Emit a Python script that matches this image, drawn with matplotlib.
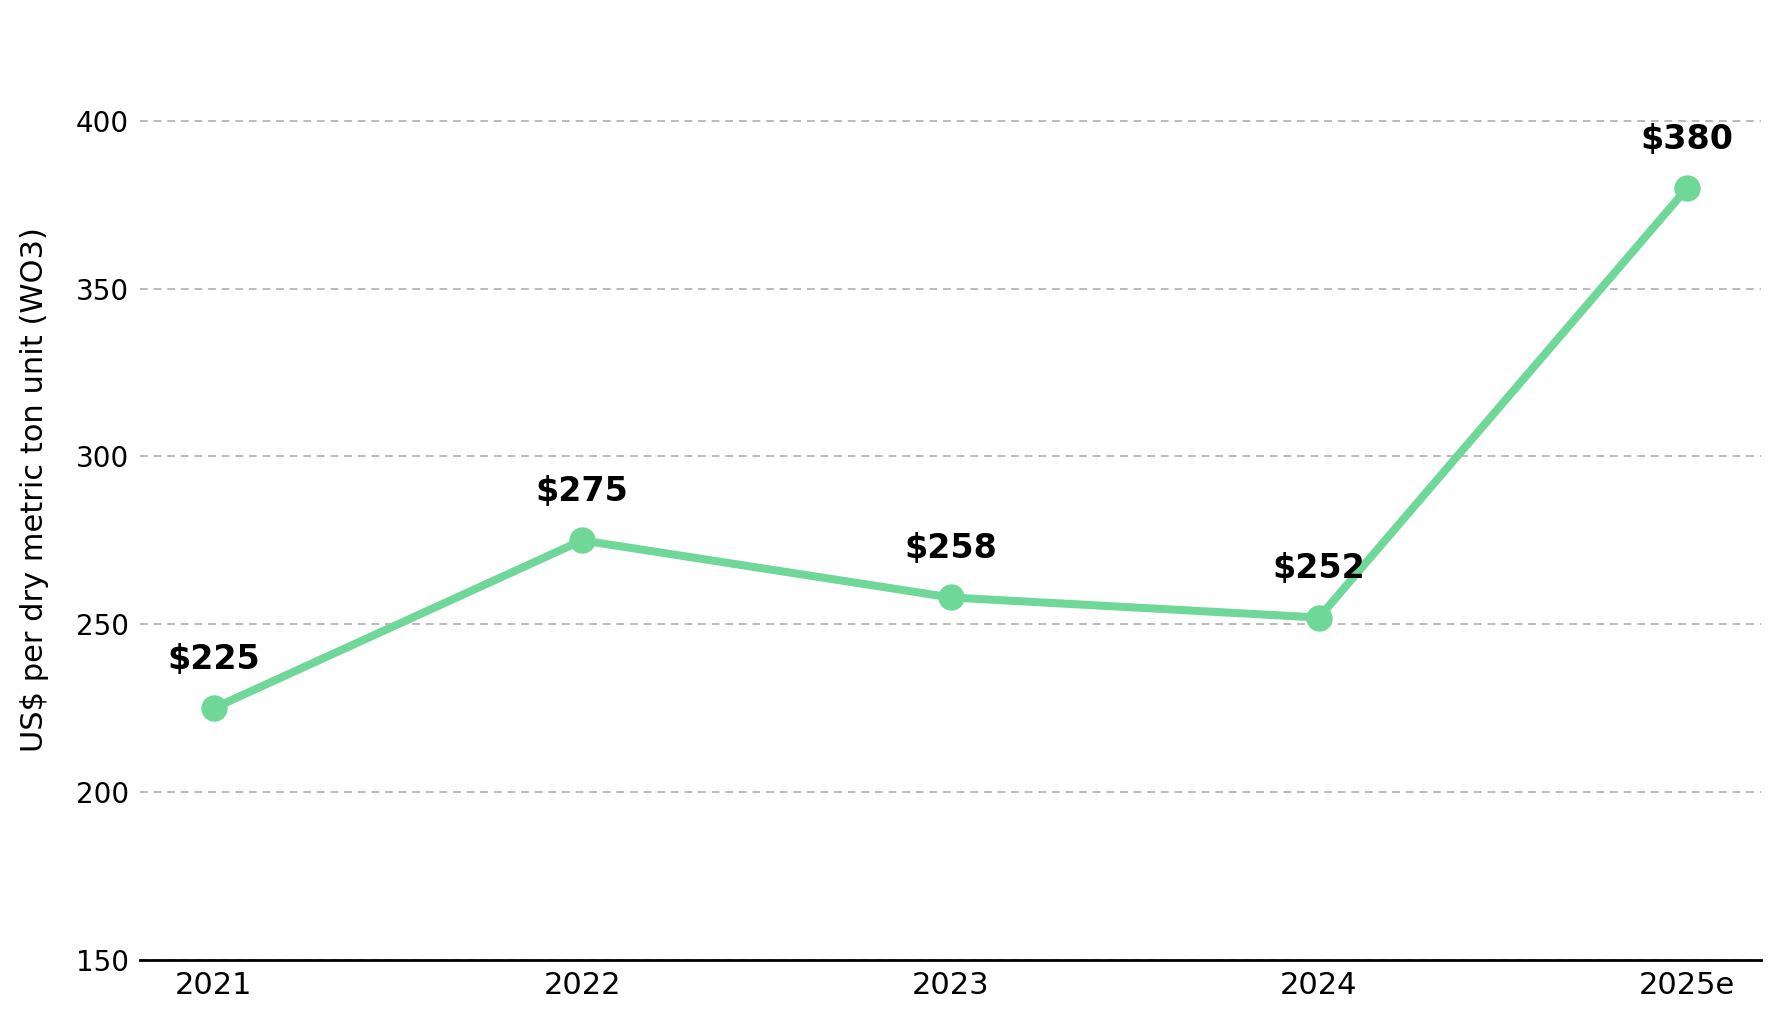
import matplotlib
matplotlib.use("Agg")
import matplotlib.pyplot as plt

# ======================================================
# DATA
# ======================================================
years = ["2021", "2022", "2023", "2024", "2025e"]
prices = [225, 275, 258, 252, 380]
price_labels = ["$225", "$275", "$258", "$252", "$380"]
y_ticks = [150, 200, 250, 300, 350, 400]

LINE_COLOR = "#6fd898"

# ======================================================
# PLOT
# ======================================================
fig = plt.figure(figsize=(17.79, 10.19), dpi=100)
ax = fig.add_axes([140 / 1779, 1 - 960 / 1019, (1761 - 140) / 1779, (960 - 20) / 1019])

x = list(range(len(years)))
ax.plot(x, prices, color=LINE_COLOR, linewidth=5.8, marker="o", markersize=18,
        zorder=3)

for xi, val, lab in zip(x, prices, price_labels):
    ax.annotate(lab, (xi, val), xytext=(0, 35), textcoords="offset points",
                ha="center", va="center", fontsize=24, fontweight="bold",
                color="black")

ax.set_xlim(-0.2, 4.2)
ax.set_ylim(150, 430)
ax.set_xticks(x)
ax.set_xticklabels(years)
ax.set_yticks(y_ticks)
ax.tick_params(axis="x", length=0, labelsize=22, pad=8)
ax.tick_params(axis="y", length=0, labelsize=20, pad=8)

ax.grid(axis="y", linestyle="--", color="#bbbbbb", linewidth=1.4, dashes=(4, 3))
ax.set_axisbelow(True)

for side in ["top", "right", "left"]:
    ax.spines[side].set_visible(False)
ax.spines["bottom"].set_linewidth(2)
ax.spines["bottom"].set_color("black")

ax.set_ylabel("US$ per dry metric ton unit (WO3)", fontsize=22, labelpad=19)

fig.savefig("out.png", dpi=100)
